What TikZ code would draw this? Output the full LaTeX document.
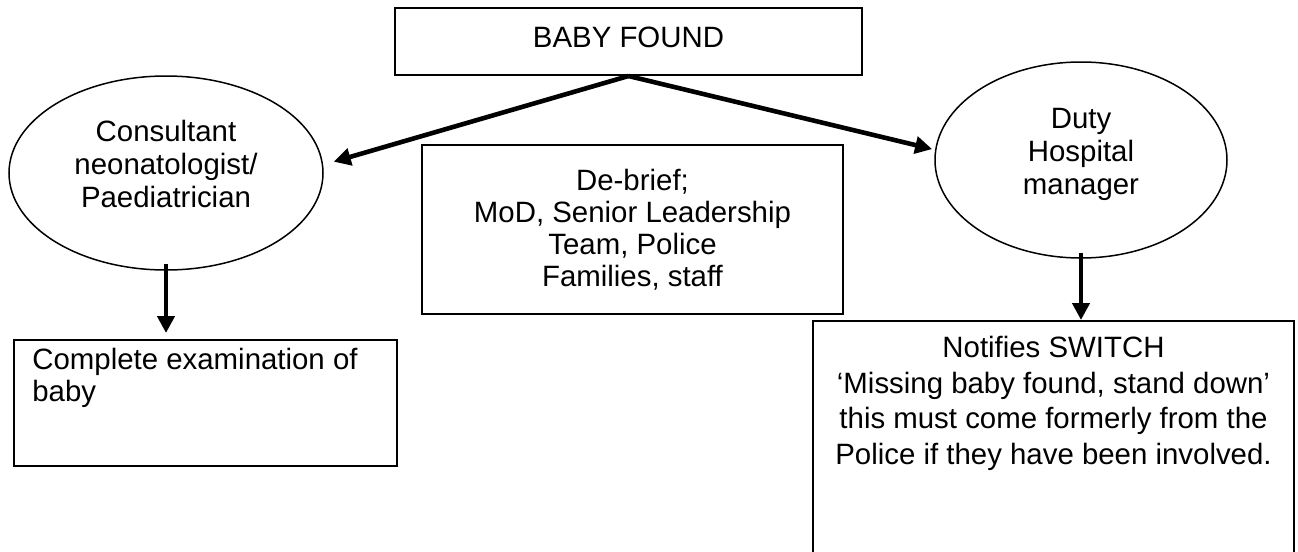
\documentclass[tikz,border=0pt]{standalone}
\usepackage{fontspec}
\setmainfont{Liberation Sans}
\usetikzlibrary{arrows.meta,shapes.geometric}

\begin{document}
\begin{tikzpicture}[x=0.5pt, y=-0.5pt, font=\fontsize{14.7}{16}\selectfont,
    box/.style={draw, line width=1pt, align=center, inner sep=0pt},
    role/.style={draw, ellipse, line width=0.75pt, align=center, inner sep=0pt, font=\fontsize{14.7}{16.5}\selectfont},
    flow/.style={-{Triangle[length=8.5pt,width=8.5pt]}, line width=2.3pt}]
  \useasboundingbox (0,0) rectangle (1298,552);
  \clip (0,0) rectangle (1298,552);

  \node[box, minimum width=233.5pt, minimum height=33.5pt, text depth=4.5pt] (found)   at (628.5,41.5) {BABY FOUND};
  \node[role, minimum width=157pt, minimum height=97pt]                      (consult) at (166,173)    {Consultant\\neonatologist/\\Paediatrician\rule[-9pt]{0pt}{9pt}};
  \node[role, minimum width=146pt, minimum height=98pt]                      (duty)    at (1081,160)   {Duty\\Hospital\\manager\rule[-9pt]{0pt}{9pt}};
  \node[box, minimum width=210.5pt, minimum height=84.5pt]                   (debrief) at (632.5,229.5) {De-brief;\\MoD, Senior Leadership\\Team, Police\\Families, staff};
  \node[box, anchor=north west, minimum width=191.5pt, minimum height=63pt,
        label={[anchor=north west, align=left, inner sep=0pt, xshift=9.5pt, yshift=-4.5pt]north west:Complete examination of\\baby}]
                                                                             (exam)    at (13,339)     {};
  \node[box, anchor=north west, minimum width=240.5pt, minimum height=120pt,
        label={[anchor=north, align=center, inner sep=0pt, yshift=-8pt, font=\fontsize{14.7}{17.75}\selectfont]north:Notifies SWITCH\\`Missing baby found, stand down'\\this must come formerly from the\\Police if they have been involved.}]
                                                                             (notify)  at (812,320)    {};

  \path (found.south)   edge [flow, shorten >=5.5pt] (consult.3)
                        edge [flow, shorten >=1.5pt] (duty.176)
        (consult.south) edge [flow, shorten <=-3.5pt, shorten >=3pt] (consult.south |- exam.north)
        (duty.south)    edge [flow, shorten <=-3pt] (duty.south |- notify.north)
        ;
\end{tikzpicture}
\end{document}
